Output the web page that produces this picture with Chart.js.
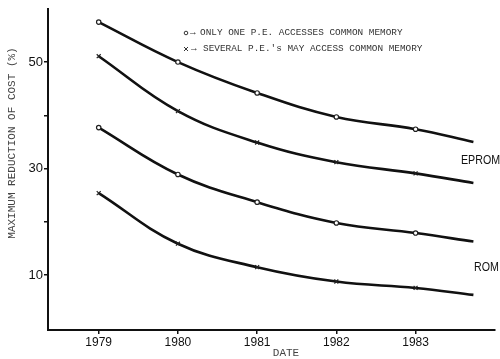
<!DOCTYPE html>
<html>
<head>
<meta charset="utf-8">
<script src="https://cdn.jsdelivr.net/npm/chart.js@4/dist/chart.umd.min.js"></script>
<style>
  html, body { margin: 0; padding: 0; background: #ffffff; }
  #wrap { width: 500px; height: 359px; position: relative; }
</style>
</head>
<body>
<div id="wrap"><canvas id="grafico"></canvas></div>
<script>
// datos
const years = [1979, 1980, 1981, 1982, 1983, 1983.73];
const epromOne = [57.5, 50.0, 44.2, 39.7, 37.4, 35.0];
const epromSeveral = [51.1, 40.8, 34.9, 31.2, 29.1, 27.3];
const romOne = [37.7, 28.9, 23.7, 19.8, 17.9, 16.3];
const romSeveral = [25.4, 15.9, 11.5, 8.8, 7.6, 6.3];
const xTicks = [1979, 1980, 1981, 1982, 1983];
const yTicks = [10, 20, 30, 40, 50];
const yLabeled = [10, 30, 50];

const mono = "'Liberation Mono', 'DejaVu Sans Mono', monospace";
const sans = "'Liberation Sans', Arial, sans-serif";

function serie(values, style) {
    return {
        data: years.map((y, i) => ({ x: y, y: values[i] })),
        borderColor: "#111",
        backgroundColor: "#fff",
        borderWidth: 2.6,
        pointStyle: style,
        pointRadius: years.map((y, i) => i < years.length - 1 ? (style === "circle" ? 2.2 : 2.8) : 0),
        pointBorderColor: "#222",
        pointBorderWidth: 1.2,
        tension: 0.4,
        fill: false
    };
}

// textos sueltos: leyenda, etiquetas y titulos
const textos = {
    id: "textos",
    afterDraw(chart) {
        const ctx = chart.ctx;
        ctx.save();
        ctx.fillStyle = "#333";
        ctx.strokeStyle = "#333";
        ctx.lineWidth = 1;

        // leyenda
        ctx.beginPath();
        ctx.arc(186, 33, 1.8, 0, Math.PI * 2);
        ctx.stroke();
        ctx.beginPath();
        ctx.moveTo(184, 47); ctx.lineTo(188, 51);
        ctx.moveTo(188, 47); ctx.lineTo(184, 51);
        ctx.stroke();
        ctx.font = "9.4px " + mono;
        ctx.textBaseline = "middle";
        ctx.fillText("\u2192", 190, 33);
        ctx.fillText("\u2192", 191, 49);
        ctx.fillText("ONLY ONE P.E. ACCESSES COMMON MEMORY", 200, 33);
        ctx.fillText("SEVERAL P.E.'s MAY ACCESS COMMON MEMORY", 203, 49);

        // EPROM / ROM
        ctx.fillStyle = "#111";
        ctx.font = "13px " + sans;
        [["EPROM", 461, 160], ["ROM", 474, 267]].forEach(([t, x, y]) => {
            ctx.save();
            ctx.translate(x, y);
            ctx.scale(0.82, 1);
            ctx.fillText(t, 0, 0);
            ctx.restore();
        });

        // titulos de ejes
        ctx.fillStyle = "#444";
        ctx.font = "11px " + mono;
        ctx.textAlign = "center";
        ctx.fillText("DATE", 286, 353);
        ctx.translate(12, 143);
        ctx.rotate(-Math.PI / 2);
        ctx.fillText("MAXIMUM REDUCTION OF COST (%)", 0, 0);
        ctx.restore();
    }
};

new Chart(document.getElementById("grafico"), {
    type: "line",
    data: {
        datasets: [
            serie(epromOne, "circle"),
            serie(epromSeveral, "crossRot"),
            serie(romOne, "circle"),
            serie(romSeveral, "crossRot")
        ]
    },
    options: {
        responsive: true,
        maintainAspectRatio: false,
        animation: false,
        layout: { padding: { top: 8, right: 0, left: 0, bottom: 0 } },
        plugins: {
            legend: { display: false },
            tooltip: { enabled: false }
        },
        scales: {
            x: {
                type: "linear",
                min: 1978.36,
                max: 1984.0,
                afterBuildTicks: axis => { axis.ticks = xTicks.map(v => ({ value: v })); },
                afterFit: axis => { axis.height = 29; },
                border: { color: "#111", width: 2 },
                grid: { drawOnChartArea: false, drawTicks: true, tickLength: 4, color: "#111", lineWidth: 1.5 },
                ticks: {
                    color: "#111",
                    padding: 1,
                    font: { family: sans, size: 12 },
                    callback: v => String(v)
                }
            },
            y: {
                min: -0.3,
                max: 60,
                afterBuildTicks: axis => { axis.ticks = yTicks.map(v => ({ value: v })); },
                afterFit: axis => { axis.width = 48; },
                border: { color: "#111", width: 2 },
                grid: { drawOnChartArea: false, drawTicks: true, tickLength: 4, color: "#111", lineWidth: 1.5 },
                ticks: {
                    color: "#111",
                    padding: 1,
                    font: { family: sans, size: 13 },
                    callback: v => yLabeled.includes(v) ? String(v) : ""
                }
            }
        }
    },
    plugins: [textos]
});
</script>
</body>
</html>
